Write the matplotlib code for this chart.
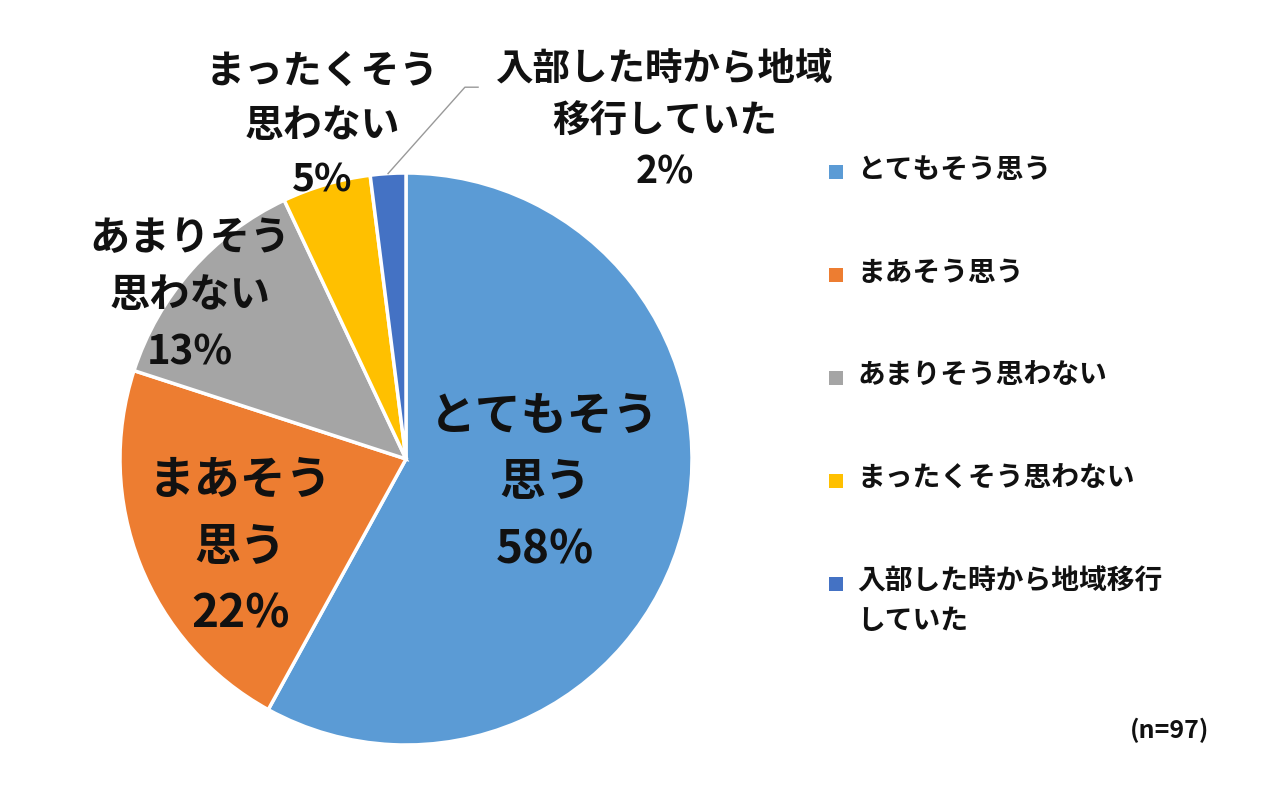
import numpy as np
import matplotlib.pyplot as plt
from matplotlib.patches import Rectangle

plt.rcParams['font.family'] = ['Noto Sans CJK JP', 'DejaVu Sans']

# データ
categories = ['とてもそう思う', 'まあそう思う', 'あまりそう思わない',
              'まったくそう思わない', '入部した時から地域移行していた']
values = [58, 22, 13, 5, 2]
slice_labels = ['とてもそう\n思う', 'まあそう\n思う', 'あまりそう\n思わない',
                'まったくそう\n思わない', '入部した時から地域\n移行していた']
legend_labels = ['とてもそう思う', 'まあそう思う', 'あまりそう思わない',
                 'まったくそう思わない', '入部した時から地域移行\nしていた']
colors = ['#5B9BD5', '#ED7D31', '#A5A5A5', '#FFC000', '#4472C4']
note = '(n=97)'

W, H = 1280, 791
cx, cy, R = 406, 459, 286

fig = plt.figure(figsize=(W / 100, H / 100), dpi=100)
ax = fig.add_axes([0, 0, 1, 1])

wedges, _ = ax.pie(values, colors=colors, startangle=90, counterclock=False,
                   radius=1, wedgeprops=dict(edgecolor='white', linewidth=2.5))
# pie() が軸範囲を上書きするので後から設定
ax.set_xlim(-cx / R, (W - cx) / R)
ax.set_ylim((cy - H) / R, cy / R)
ax.set_aspect('equal')
ax.axis('off')

# ラベル位置（半径単位）とフォントサイズ
label_pos = [(0.486, -0.085), (-0.58, -0.31), (-0.755, 0.57),
             (-0.294, 1.165), (0.906, 1.185)]
label_size = [33, 33, 29, 28, 27]
label_ls = [1.58, 1.58, 1.5, 1.5, 1.42]
for lab, v, (x, y), fs, ls in zip(slice_labels, values, label_pos, label_size, label_ls):
    ax.text(x, y, f'{lab}\n{v}%', ha='center', va='center', fontsize=fs,
            fontweight='bold', color='#111111', linespacing=ls)

# 引き出し線（最小スライス）
w = wedges[-1]
mid = np.deg2rad((w.theta1 + w.theta2) / 2)
x0, y0 = np.cos(mid), np.sin(mid)
ax.plot([x0, 0.206, 0.252], [y0, 1.30, 1.30], color='#999999', linewidth=1)

# 凡例（手描き）
lx_marker, lx_text = 836, 857
ly0, lstep = 172, 103
for i, (lab, c) in enumerate(zip(legend_labels, colors)):
    yy = ly0 + i * lstep
    fig.patches.append(Rectangle(((lx_marker - 7) / W, 1 - (yy + 7) / H),
                                 14 / W, 14 / H, transform=fig.transFigure,
                                 facecolor=c, edgecolor='none'))
    fig.text(lx_text / W, 1 - (yy - 16) / H, lab, ha='left', va='top',
             fontsize=20, fontweight='bold', color='#111111', linespacing=1.5)

fig.text(1170 / W, 1 - 730 / H, note, ha='center', va='center',
         fontsize=18, fontweight='bold', color='#111111')

fig.savefig('out.png', dpi=100)
